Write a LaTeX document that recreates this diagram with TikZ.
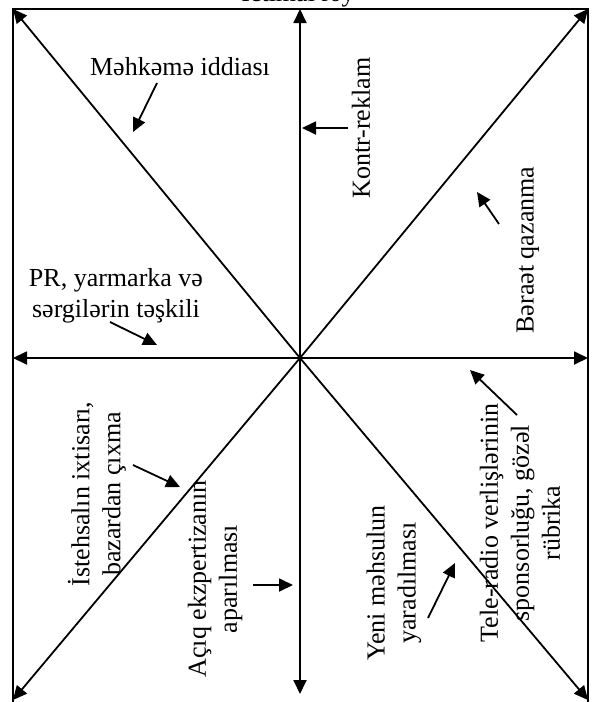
\documentclass[tikz,border=0pt]{standalone}
\usepackage{fontspec}
\setmainfont{Liberation Serif}
\usetikzlibrary{arrows.meta}
\begin{document}
\begin{tikzpicture}[x=1pt,y=-1pt,
  axis/.style={line width=1.8pt,-{Triangle[length=14pt,width=13pt]}},
  pointer/.style={line width=1.8pt,-{Triangle[length=14pt,width=13pt]}},
  frameline/.style={line width=1.8pt},
  lbl/.style={font=\fontsize{26}{31}\selectfont,inner sep=0pt,align=center},
  vlbl/.style={lbl,rotate=90}]
\useasboundingbox (0,0) rectangle (599,702);
\clip (0,0) rectangle (599,702);
% frame corners and centre
\coordinate (O) at (300,358);
\coordinate (TL) at (13,9);
\coordinate (TR) at (588,9);
\coordinate (BL) at (13,700);
\coordinate (BR) at (588,700);
\coordinate (T) at (300,9);
\coordinate (B) at (300,694);
\coordinate (L) at (13,358);
\coordinate (R) at (588,358);
\coordinate (BLo) at (13,720);
\coordinate (BRo) at (588,720);
% frame (open at the bottom)
\draw[frameline] (BLo) -- (TL) -- (TR) -- (BRo);
% heading above the frame
\node[lbl,anchor=base] (head) at (298,1.5) {Ictimai rəy};
% eight rays from the centre
\foreach \p in {TL,TR,BL,BR,T,B,L,R}
  \draw[axis] (O) -- (\p);
% labels
\node[lbl,anchor=base] (court) at (180,75) {Məhkəmə iddiası};
\node[vlbl] (counter) at (361,128) {Kontr-reklam};
\node[vlbl] (acquit) at (528,250) {Bəraət qazanma};
\node[lbl] (pr) at (116,296) {PR, yarmarka və\\sərgilərin təşkili};
\node[vlbl] (cut) at (97,494) {İstehsalın ixtisarı,\\bazardan çıxma};
\node[vlbl] (expert) at (215,579) {Açıq ekzpertizanın\\aparılması};
\node[vlbl] (newprod) at (394,583) {Yeni məhsulun\\yaradılması};
\node[vlbl] (sponsor) at (520,523) {Tele-radio verlişlərinin\\sponsorluğu, gözəl\\rübrika};
% pointer arrows
\coordinate (a1) at (157,83);  \coordinate (b1) at (133,132);
\coordinate (a2) at (348,128); \coordinate (b2) at (302,128);
\coordinate (a3) at (499,224); \coordinate (b3) at (477,192);
\coordinate (a4) at (110,322); \coordinate (b4) at (157,345);
\coordinate (a5) at (133,465); \coordinate (b5) at (180,487);
\coordinate (a6) at (253,585); \coordinate (b6) at (293,585);
\coordinate (a7) at (428,618); \coordinate (b7) at (455,563);
\coordinate (a8) at (517,415); \coordinate (b8) at (470,370);
\foreach \i in {1,...,8}
  \draw[pointer] (a\i) -- (b\i);
\end{tikzpicture}
\end{document}
